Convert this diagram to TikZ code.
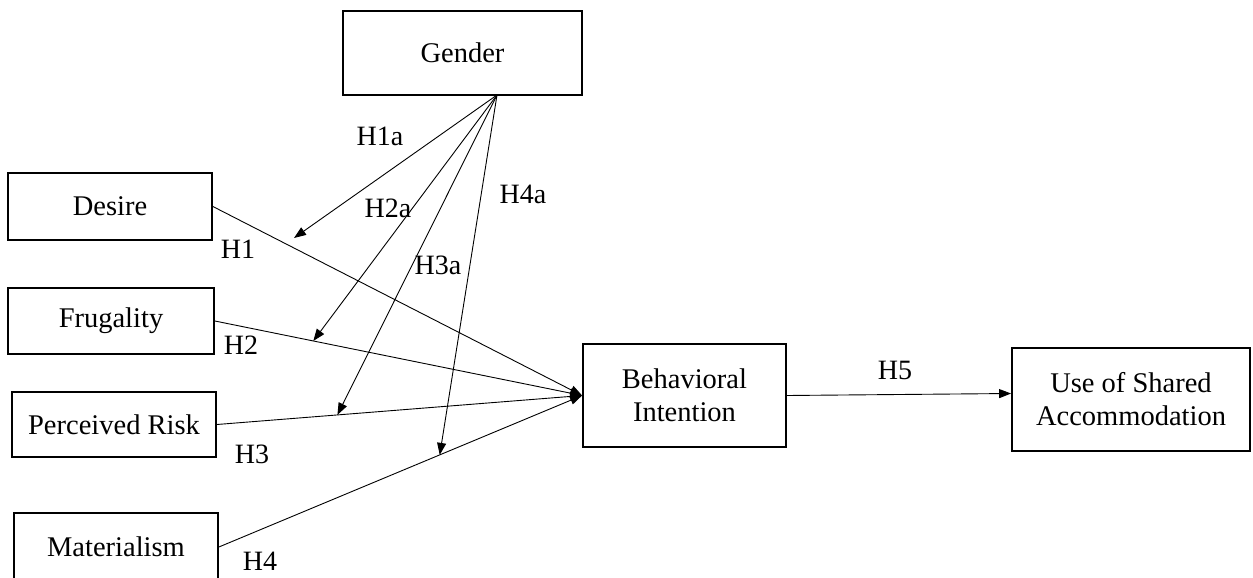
\documentclass[tikz,border=0pt]{standalone}
\usepackage{fontspec}
\setmainfont{Liberation Serif}
\usetikzlibrary{arrows.meta,calc}
\begin{document}
\begin{tikzpicture}[x=1pt,y=-1pt,
  box/.style={draw, line width=1.8pt, inner sep=0pt, align=center, font=\fontsize{28.5}{33}\selectfont},
  lab/.style={inner sep=0pt, font=\fontsize{28}{31}\selectfont},
  conn/.style={line width=0.9pt, -{Triangle[length=12pt,width=9pt]}},
  line/.style={line width=0.9pt}]
\useasboundingbox (0,0) rectangle (1253,578);
% boxes
\node[box, minimum width=239pt, minimum height=84pt] (gender) at (462.5,53) {Gender};
\node[box, minimum width=204pt, minimum height=67pt] (des) at (110,206.5) {Desire};
\node[box, minimum width=206pt, minimum height=66pt] (fru) at (111,321) {Frugality};
\node[box, minimum width=204pt, minimum height=65pt] (risk) at (114,424.5) {Perceived Risk};
\node[box, minimum width=204pt, minimum height=68pt] (mat) at (116,547) {Materialism};
\node[box, minimum width=203pt, minimum height=103pt] (bi) at (684.5,395.5) {Behavioral\\Intention};
\node[box, minimum width=238pt, minimum height=103pt] (use) at (1131,399.5) {Use of Shared\\Accommodation};
% main paths
\draw[conn] (des.east) -- (bi.west);
\draw[conn] (fru.east) -- coordinate[pos=0.268] (t2) (bi.west);
\draw[conn] (risk.east) -- coordinate[pos=0.33] (t3) (bi.west);
\draw[conn] (mat.east) -- coordinate[pos=0.608] (t4) (bi.west);
\draw[conn] (bi.east) -- ($(use.west)+(0,-6)$);
% moderation paths
\coordinate (apex) at (497,95);
\coordinate (t1) at (294,238);
\draw[conn] (apex) -- (t1);
\draw[conn] (apex) -- (t2);
\draw[conn] (apex) -- (t3);
\draw[conn] (apex) -- (t4);
% labels
\node[lab] (l1a) at (380,136) {H1a};
\node[lab] (l2a) at (388,208) {H2a};
\node[lab] (l3a) at (438,265) {H3a};
\node[lab] (l4a) at (523,194) {H4a};
\node[lab] (l1) at (238,249) {H1};
\node[lab] (l2) at (241,345) {H2};
\node[lab] (l3) at (252,454) {H3};
\node[lab] (l4) at (260,561) {H4};
\node[lab] (l5) at (895,370) {H5};
\end{tikzpicture}
\end{document}
